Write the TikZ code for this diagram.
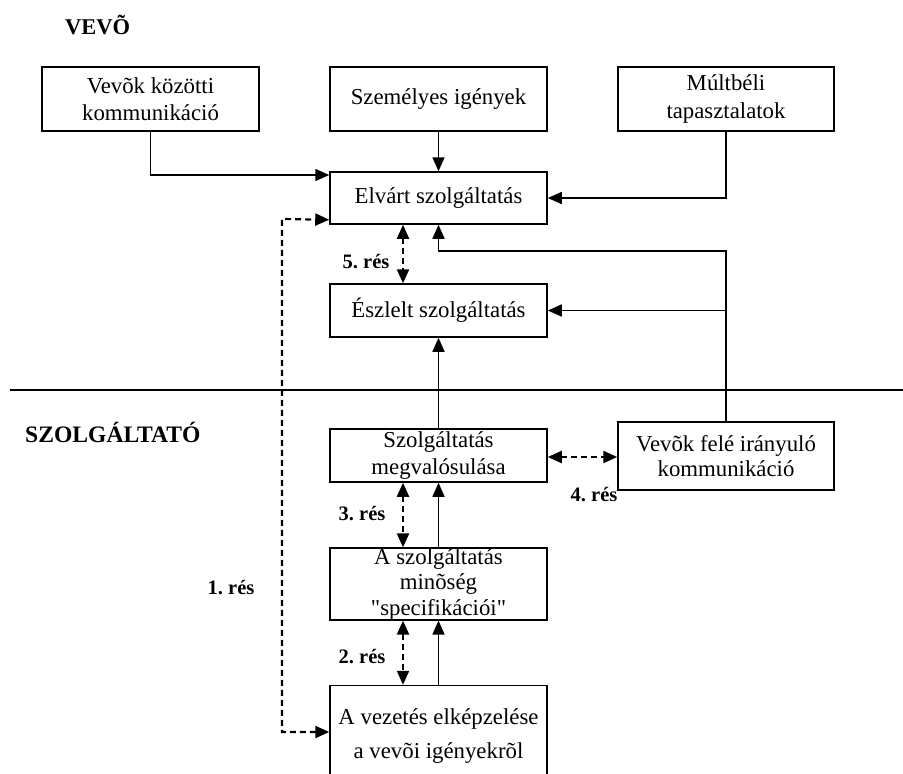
\documentclass[tikz,border=0pt]{standalone}
\usepackage{fontspec}
\setmainfont{Liberation Serif}[Ligatures=TeXOff]
\usetikzlibrary{arrows.meta}
\begin{document}
\begin{tikzpicture}[x=1pt,y=-1pt,
  box/.style={draw, line width=1.5pt, rectangle, align=center, inner sep=0pt,
    minimum width=217pt, font=\fontsize{22.8}{27.5}\selectfont},
  arr/.style={line width=1.5pt, -{Triangle[length=14pt,width=12pt]}},
  gap/.style={line width=2.2pt, dash pattern=on 6pt off 4pt,
    {Triangle[length=14pt,width=12pt]}-{Triangle[length=14pt,width=12pt]}},
  gaplabel/.style={font=\bfseries\fontsize{20.5}{24}\selectfont, inner sep=0pt},
  side/.style={font=\bfseries\fontsize{22.5}{27}\selectfont, anchor=base west, inner sep=0pt}]

\clip (0,0) rectangle (903,774);

% side titles
\node[side] (vevo) at (65,34) {VEVÕ};
\node[side, font=\bfseries\fontsize{23.6}{28}\selectfont] (szolg) at (25,442) {SZOLGÁLTATÓ};

% customer / provider boundary
\draw[line width=2.6pt] (10,390) -- (903,390);

% customer side
\node[box, minimum height=64pt] (vk) at (150.5,99) {Vevõk közötti\\kommunikáció};
\node[box, minimum height=64pt] (szi) at (438.5,99) {Személyes igények};
\node[box, minimum height=64pt, minimum width=216pt] (mt) at (726,99) {Múltbéli\\tapasztalatok};
\node[box, minimum height=52pt] (elv) at (438.5,198) {Elvárt szolgáltatás};
\node[box, minimum height=53pt] (esz) at (438.5,310.5) {Észlelt szolgáltatás};

% provider side
\node[box, minimum height=53pt] (meg) at (438.5,455.5) {Szolgáltatás\\megvalósulása};
\node[box, minimum height=68pt, minimum width=216pt,
  font=\fontsize{22.8}{25.5}\selectfont] (vfk) at (726,456) {Vevõk felé irányuló\\kommunikáció};
\node[box, minimum height=70pt, font=\fontsize{22.8}{25.5}\selectfont] (spec) at (438.5,584)
  {A szolgáltatás\\minõség\\"specifikációi"};
\node[box, minimum height=101pt] (vez) at (438.5,736)
  {A vezetés elképzelése\\[7pt]a vevõi igényekrõl};

% influences on the expected service
\draw[arr] (vk.south) |- ([yshift=23pt]elv.west);
\draw[arr] (szi.south) -- (elv.north);
\draw[arr] (mt.south) |- (elv.east);

% external communication feeds both expectation and perception
\coordinate (jct) at (726,251);
\draw[arr] (vfk.north) -- (jct) -| (elv.south);
\draw[arr] (vfk.north |- esz.east) -- (esz.east);

% delivery chain
\draw[arr] (meg.north) -- (esz.south);
\draw[arr] (spec.north) -- (meg.south);
\draw[arr] (vez.north) -- (spec.south);

% gaps
\draw[gap] ([xshift=-35.5pt]elv.south) -- ([xshift=-35.5pt]esz.north);
\draw[gap] ([xshift=-35.5pt]meg.south) -- ([xshift=-35.5pt]spec.north);
\draw[gap] ([xshift=-35.5pt]spec.south) -- ([xshift=-35.5pt]vez.north);
\draw[gap] ([yshift=-1.5pt]meg.east) -- ([yshift=-1.5pt]meg.east -| vfk.west);
\coordinate (g1) at (282,219);
\draw[gap] ([yshift=4pt]vez.west) -| (g1) -- ([yshift=5pt]elv.south west);

\node[gaplabel] (r5) at (366,262) {5.\ rés};
\node[gaplabel] (r4) at (594,495) {4.\ rés};
\node[gaplabel] (r3) at (362,514) {3.\ rés};
\node[gaplabel] (r2) at (362,657) {2.\ rés};
\node[gaplabel] (r1) at (231,588) {1.\ rés};
\end{tikzpicture}
\end{document}
